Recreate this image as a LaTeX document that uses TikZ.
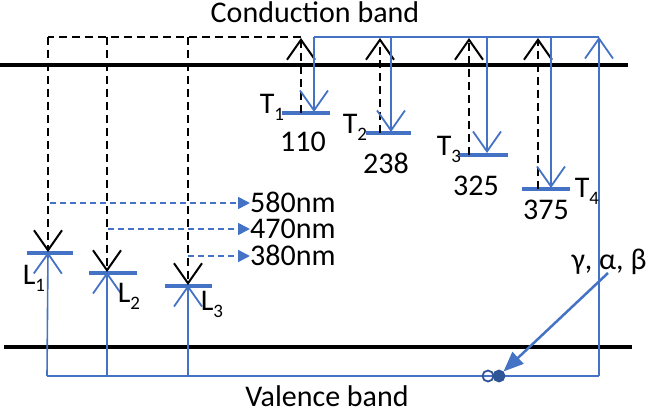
\documentclass[tikz,border=0pt]{standalone}
\usepackage{fontspec}
\setmainfont{Carlito}
\usetikzlibrary{arrows.meta}
\definecolor{ob}{HTML}{4472C4}
\definecolor{db}{HTML}{2F5597}
\newcommand{\sbs}[1]{{\fontsize{19}{19}\selectfont\raisebox{-7pt}{#1}}}
\begin{document}
\begin{tikzpicture}[x=1pt,y=-1pt,
  txt/.style={font=\fontsize{30}{32}\selectfont, inner sep=0pt},
  nm/.style={txt,anchor=west,text height=19pt,text depth=0pt},
  band/.style={line width=4pt,black},
  lvl/.style={line width=4pt,ob},
  bl/.style={line width=1.6pt,ob},
  blarrow/.style={bl,-{Straight Barb[length=20pt,width=28pt,line width=1.8pt]}},
  kd/.style={line width=1.8pt,black,dash pattern=on 8pt off 5pt},
  kdarrow/.style={kd,-{Straight Barb[length=20pt,width=28pt,line width=2pt]}},
  bdarrow/.style={line width=1.8pt,ob,dash pattern=on 6pt off 4pt,-{Triangle[length=12pt,width=12pt]}},
  gam/.style={line width=2.5pt,ob,-{Triangle[length=20pt,width=16pt]}}
]
\useasboundingbox (0,0) rectangle (649,412);
% texts
\node[txt,anchor=base] (cbt) at (315,23) {Conduction band};
\node[txt,anchor=base,text depth=0pt] (vbt) at (327,406) {Valence band};
% bands
\coordinate (cbl) at (0,65); \coordinate (cbr) at (628,65);
\coordinate (vbl) at (4,347); \coordinate (vbr) at (632,347);
\draw[band] (cbl) -- (cbr);
\draw[band] (vbl) -- (vbr);
% level bars
\foreach \n/\a/\b/\y in {L1/27/73/253, L2/89/137/273, L3/165/212/286,
                          T1/282/330/113, T2/366/411/133, T3/459/508/155, T4/522/570/189}{
  \coordinate (\n a) at (\a,\y); \coordinate (\n b) at (\b,\y);
  \draw[lvl] (\n a) -- (\n b);
}
% coordinates on bars
\coordinate (L1x) at (48,252); \coordinate (L2x) at (107,272); \coordinate (L3x) at (188,285);
\coordinate (T1k) at (301,113); \coordinate (T2k) at (380,133); \coordinate (T3k) at (469,155); \coordinate (T4k) at (538,189);
\coordinate (T1b) at (314,112); \coordinate (T2b) at (391,132); \coordinate (T3b) at (487,153); \coordinate (T4b) at (551,188);
% top coordinates
\coordinate (kt0) at (48,37); \coordinate (kt1) at (107,37); \coordinate (kt2) at (188,37); \coordinate (kt3) at (301,37);
\coordinate (T1u) at (301,38); \coordinate (T2u) at (380,38); \coordinate (T3u) at (469,38); \coordinate (T4u) at (538,38);
\coordinate (bt1) at (314,37); \coordinate (bt2) at (391,37); \coordinate (bt3) at (487,37); \coordinate (bt4) at (551,37); \coordinate (btr) at (599,37);
\coordinate (bb0) at (47,376); \coordinate (bb1) at (107,376); \coordinate (bb2) at (188,376); \coordinate (bbr) at (599,376);
% black dashed
\draw[kd] (kt3) -- (kt0);
\draw[kdarrow] (kt0) -- (L1x);
\draw[kdarrow] (kt1) -- (L2x);
\draw[kdarrow] (kt2) -- (L3x);
\draw[kdarrow] (T1k) -- (T1u);
\draw[kdarrow] (T2k) -- (T2u);
\draw[kdarrow] (T3k) -- (T3u);
\draw[kdarrow] (T4k) -- (T4u);
% blue solid
\draw[bl] (bt1) -- (btr);
\draw[blarrow] (bt1) -- (T1b);
\draw[blarrow] (bt2) -- (T2b);
\draw[blarrow] (bt3) -- (T3b);
\draw[blarrow] (bt4) -- (T4b);
\draw[bl] (bb0) -- (bbr);
\draw[blarrow] (bbr) -- (btr);
\draw[blarrow] (bb0) -- (L1x);
\draw[blarrow] (bb1) -- (L2x);
\draw[blarrow] (bb2) -- (L3x);
% labels
\node[nm] (n580) at (250,203) {580nm};
\node[nm] (n470) at (250,229) {470nm};
\node[nm] (n380) at (250,256) {380nm};
\draw[bdarrow] (50,203) -- (n580.west);
\draw[bdarrow] (108,229) -- (n470.west);
\draw[bdarrow] (188,256) -- (n380.west);
\node[txt] (t1) at (272,107) {T\sbs{1}};
\node[txt] (t2) at (355,127) {T\sbs{2}};
\node[txt] (t3) at (449,149) {T\sbs{3}};
\node[txt] (t4) at (587,191) {T\sbs{4}};
\node[txt] (v1) at (303,142) {110};
\node[txt] (v2) at (386,163) {238};
\node[txt] (v3) at (476,186) {325};
\node[txt] (v4) at (546,210) {375};
\node[txt] (l1) at (34,278) {L\sbs{1}};
\node[txt] (l2) at (129,296) {L\sbs{2}};
\node[txt] (l3) at (212,304) {L\sbs{3}};
\node[txt] (gab) at (609,262) {γ, α, β};
% particles
\node[circle,draw=db,line width=1.8pt,minimum size=11pt,inner sep=0pt] (e1) at (488,376) {};
\node[circle,draw=db,fill=db,line width=1.8pt,minimum size=11pt,inner sep=0pt] (e2) at (499,376) {};
\coordinate (gs) at (608,273);
\draw[gam] (gs) -- (e2.north east);
\end{tikzpicture}
\end{document}
